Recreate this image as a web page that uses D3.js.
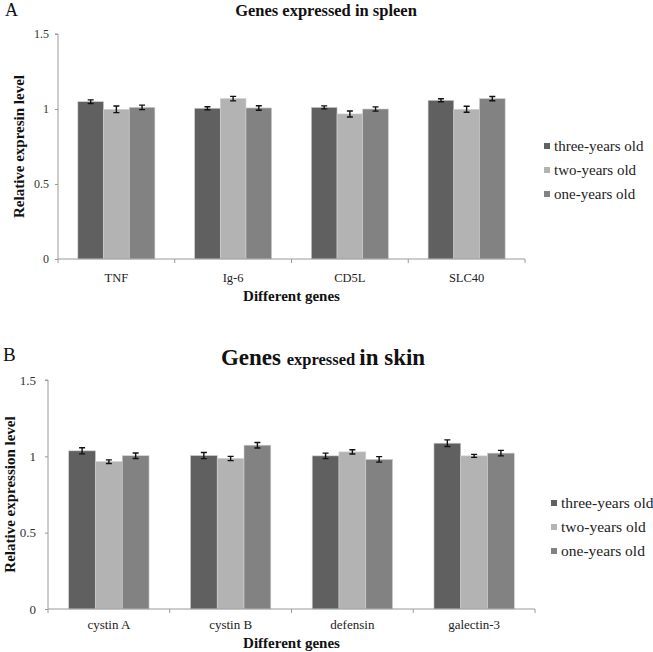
<!DOCTYPE html>
<html><head><meta charset="utf-8">
<script src="https://cdn.jsdelivr.net/npm/d3@7"></script>
<style>body{margin:0;background:#fff}</style>
</head><body><svg id="c" width="653" height="652" font-family="Liberation Serif, Times New Roman, serif"></svg>
<script>
const FONT = "Liberation Serif";
const seriesNames = ["three-years old","two-years old","one-years old"];
const seriesColors = ["#606060","#b3b3b3","#828282"];
const yTicks = [0,0.5,1,1.5];
const yTickLabels = ["0","0.5","1","1.5"];

const genesA = ["TNF","Ig-6","CD5L","SLC40"];
const spleenThree = [1.049,1.005,1.011,1.058];
const spleenTwo   = [0.998,1.069,0.967,0.998];
const spleenOne   = [1.011,1.007,1.000,1.069];
const spleenThreeErr = [0.012,0.010,0.010,0.010];
const spleenTwoErr   = [0.022,0.015,0.020,0.020];
const spleenOneErr   = [0.015,0.015,0.014,0.014];

const genesB = ["cystin A","cystin B","defensin","galectin-3"];
const skinThree = [1.036,1.005,1.003,1.086];
const skinTwo   = [0.965,0.986,1.029,1.003];
const skinOne   = [1.004,1.073,0.980,1.021];
const skinThreeErr = [0.020,0.020,0.018,0.022];
const skinTwoErr   = [0.012,0.014,0.014,0.010];
const skinOneErr   = [0.018,0.018,0.018,0.018];

const svg = d3.select("#c");

function panel(o){
  const g = svg.append("g");
  const x0 = d3.scaleBand().domain(o.genes).range([o.left,o.right]).paddingInner(0.34).paddingOuter(0.17);
  const x1 = d3.scaleBand().domain(seriesNames).range([0,x0.bandwidth()]);
  const y = d3.scaleLinear().domain([0,1.5]).range([o.bottom,o.top]);
  const vals = [o.s3,o.s2,o.s1], errs=[o.e3,o.e2,o.e1];

  const ya = g.append("g").attr("transform",`translate(${o.left},0)`)
    .call(d3.axisLeft(y).tickValues(yTicks).tickFormat((d,i)=>yTickLabels[i]).tickSize(3).tickPadding(o.tickPad));
  ya.attr("font-family",FONT);
  ya.select(".domain").attr("stroke","#9a9a9a").attr("d",`M-3,${y(1.5)}H0V${y(0)}`);
  ya.selectAll(".tick line").attr("stroke","#9a9a9a");
  ya.selectAll("text").attr("font-size",o.tickFont).attr("fill","#333").attr("font-family",FONT);

  o.genes.forEach((gn,i)=>{
    seriesNames.forEach((s,k)=>{
      const v = vals[k][i], e = errs[k][i];
      const bx = x0(gn)+x1(s);
      g.append("rect").attr("x",bx).attr("y",y(v)).attr("width",x1.bandwidth()).attr("height",y(0)-y(v))
        .attr("fill",seriesColors[k]).attr("stroke","#d0d0d0").attr("stroke-width",0.6);
      const cx = bx + x1.bandwidth()/2;
      g.append("path").attr("d",`M${cx-3},${y(v+e)}H${cx+3}M${cx},${y(v+e)}V${y(v-e)}M${cx-3},${y(v-e)}H${cx+3}`)
        .attr("stroke","#111").attr("stroke-width",1.4).attr("fill","none");
    });
  });

  const step = x0.step();
  g.append("line").attr("x1",o.left).attr("x2",o.right).attr("y1",y(0)).attr("y2",y(0)).attr("stroke","#9a9a9a");
  for(let i=0;i<=o.genes.length;i++){
    const tx = o.left + i*step;
    g.append("line").attr("x1",tx).attr("x2",tx).attr("y1",y(0)).attr("y2",y(0)+4).attr("stroke","#9a9a9a");
  }
  g.selectAll(".xl").data(o.genes).enter().append("text")
    .attr("x",d=>x0(d)+x0.bandwidth()/2).attr("y",o.xLabelY).attr("text-anchor","middle")
    .attr("font-family",FONT).attr("font-size",o.xFont).attr("fill","#222").text(d=>d);
  g.append("text").attr("x",(o.left+o.right)/2).attr("y",o.xTitleY).attr("text-anchor","middle")
    .attr("font-family",FONT).attr("font-size",15).attr("font-weight","bold").attr("fill","#111").text("Different genes");
  g.append("text").attr("transform",`translate(${o.yTitleX},${(o.top+o.bottom)/2}) rotate(-90)`)
    .attr("font-family",FONT).attr("text-anchor","middle").attr("font-size",o.yTitleFont).attr("font-weight","bold").attr("fill","#111").text(o.yTitle);

  seriesNames.forEach((s,k)=>{
    const ly = o.legY + k*24;
    g.append("rect").attr("x",o.legX).attr("y",ly-3).attr("width",6).attr("height",6).attr("fill",seriesColors[k]);
    g.append("text").attr("x",o.legX+10).attr("y",ly+5).attr("font-family",FONT).attr("font-size",o.legFont).attr("fill","#222").text(s);
  });
  g.append("text").attr("x",o.letterX).attr("y",o.letterY).attr("font-family",FONT).attr("font-size",o.letterFont).attr("fill","#111").text(o.letter);
  return g;
}

const gA = panel({genes:genesA,s3:spleenThree,s2:spleenTwo,s1:spleenOne,e3:spleenThreeErr,e2:spleenTwoErr,e1:spleenOneErr,
  left:58,right:525,top:34,bottom:259,tickPad:6,tickFont:12,xFont:12.5,xLabelY:282,xTitleY:301,yTitleX:24,yTitleFont:15,
  yTitle:"Relative expresin level",legX:544,legY:146,legFont:15,letter:"A",letterX:5,letterY:16,letterFont:18});
gA.append("text").attr("x",326).attr("y",16).attr("text-anchor","middle").attr("font-family",FONT).attr("font-size",16.5).attr("font-weight","bold").attr("fill","#111")
  .text("Genes expressed in spleen");

const gB = panel({genes:genesB,s3:skinThree,s2:skinTwo,s1:skinOne,e3:skinThreeErr,e2:skinTwoErr,e1:skinOneErr,
  left:48,right:535,top:380,bottom:609,tickPad:9,tickFont:13,xFont:13,xLabelY:629,xTitleY:648,yTitleX:15,yTitleFont:15,
  yTitle:"Relative expression level",legX:551,legY:503,legFont:15.5,letter:"B",letterX:3,letterY:361,letterFont:19});
const tB = gB.append("text").attr("x",323).attr("y",365).attr("text-anchor","middle").attr("font-family",FONT).attr("font-weight","bold").attr("fill","#111");
tB.append("tspan").attr("font-size",23).text("Genes ");
tB.append("tspan").attr("font-size",16.5).text("expressed ");
tB.append("tspan").attr("font-size",23).text("in skin");
</script></body></html>
